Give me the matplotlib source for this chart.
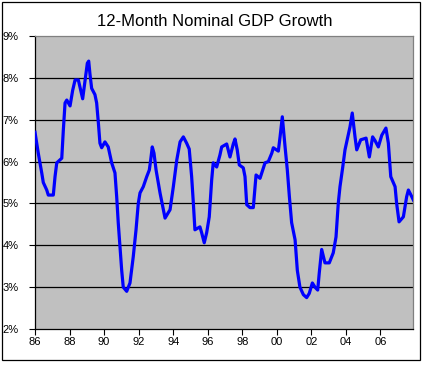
import matplotlib
matplotlib.use("Agg")
import matplotlib.pyplot as plt
from matplotlib.patches import Rectangle

plt.rcParams['font.family'] = ['Liberation Sans', 'DejaVu Sans']

# 12-month nominal GDP growth (%)
years = [1986.00, 1986.19, 1986.39, 1986.48, 1986.68, 1986.77, 1987.06, 1987.16,
         1987.26, 1987.55, 1987.64, 1987.74, 1987.84, 1988.03, 1988.18, 1988.32,
         1988.51, 1988.65, 1988.76, 1988.90, 1989.03, 1989.11, 1989.18, 1989.28,
         1989.47, 1989.57, 1989.67, 1989.76, 1989.86, 1990.05, 1990.24, 1990.44,
         1990.63, 1990.73, 1990.82, 1990.92, 1991.02, 1991.11, 1991.31, 1991.50,
         1991.69, 1991.85, 1991.98, 1992.08, 1992.27, 1992.47, 1992.62, 1992.70,
         1992.79, 1992.89, 1993.01, 1993.24, 1993.53, 1993.82, 1994.01, 1994.21,
         1994.40, 1994.59, 1994.78, 1994.93, 1995.07, 1995.17, 1995.26, 1995.55,
         1995.65, 1995.80, 1995.94, 1996.09, 1996.23, 1996.32, 1996.52, 1996.71,
         1996.81, 1997.10, 1997.29, 1997.48, 1997.58, 1997.71, 1997.83, 1998.06,
         1998.16, 1998.26, 1998.45, 1998.64, 1998.80, 1999.03, 1999.32, 1999.51,
         1999.71, 1999.80, 2000.09, 2000.19, 2000.32, 2000.48, 2000.61, 2000.73,
         2000.86, 2001.06, 2001.19, 2001.34, 2001.54, 2001.73, 2001.88, 2002.06,
         2002.21, 2002.37, 2002.46, 2002.60, 2002.79, 2003.04, 2003.27, 2003.43,
         2003.56, 2003.66, 2003.82, 2003.95, 2004.11, 2004.24, 2004.37, 2004.53,
         2004.63, 2004.86, 2005.17, 2005.36, 2005.55, 2005.69, 2005.88, 2006.08,
         2006.32, 2006.46, 2006.60, 2006.85, 2006.94, 2007.08, 2007.33, 2007.52,
         2007.62, 2007.77, 2007.91]
growth = [6.70, 6.20, 5.73, 5.50, 5.32, 5.20, 5.20, 5.64,
          5.97, 6.08, 6.75, 7.40, 7.47, 7.33, 7.70, 7.95,
          7.95, 7.70, 7.50, 7.95, 8.35, 8.40, 8.10, 7.75,
          7.60, 7.40, 6.92, 6.44, 6.33, 6.47, 6.35, 5.97,
          5.73, 5.16, 4.54, 3.96, 3.40, 3.00, 2.90, 3.10,
          3.73, 4.37, 5.00, 5.25, 5.40, 5.64, 5.80, 6.04,
          6.35, 6.20, 5.80, 5.25, 4.65, 4.85, 5.40, 6.04,
          6.47, 6.59, 6.44, 6.30, 5.64, 5.00, 4.37, 4.44,
          4.30, 4.06, 4.30, 4.68, 5.56, 5.97, 5.87, 6.16,
          6.35, 6.42, 6.11, 6.42, 6.54, 6.28, 5.92, 5.85,
          5.64, 4.97, 4.90, 4.90, 5.68, 5.60, 5.97, 6.00,
          6.20, 6.33, 6.25, 6.59, 7.07, 6.35, 5.80, 5.16,
          4.54, 4.13, 3.40, 3.00, 2.82, 2.75, 2.85, 3.10,
          3.00, 2.93, 3.34, 3.90, 3.58, 3.58, 3.82, 4.20,
          5.00, 5.40, 5.87, 6.28, 6.59, 6.83, 7.16, 6.59,
          6.28, 6.52, 6.56, 6.11, 6.59, 6.50, 6.35, 6.63,
          6.80, 6.44, 5.64, 5.40, 5.00, 4.56, 4.68, 5.16,
          5.32, 5.20, 5.08]

tick_years = list(range(1986, 2008, 2))
tick_labels = ["%02d" % (y % 100) for y in tick_years]
pct_ticks = [2, 3, 4, 5, 6, 7, 8, 9]

fig = plt.figure(figsize=(4.28, 3.65), dpi=100)
W, H = 428.0, 365.0
ax = fig.add_axes([35 / W, 1 - 329 / H, 378 / W, 293 / H])
ax.set_facecolor("#c0c0c0")

for v in pct_ticks[1:-1]:
    ax.axhline(v, color="black", lw=0.9, zorder=1)

ax.plot(years, growth, color="#0000ff", lw=2.3, zorder=3, solid_joinstyle="round")

ax.set_xlim(1986, 1986 + 378 / 17.27)
ax.set_ylim(2, 9)
ax.set_xticks(tick_years)
ax.set_xticklabels(tick_labels)
ax.set_yticks(pct_ticks)
ax.set_yticklabels(["%d%%" % v for v in pct_ticks])
ax.tick_params(direction="out", length=4, width=0.8, labelsize=8, colors="black")
ax.tick_params(axis="x", pad=1.5)
ax.tick_params(axis="y", pad=8)

ax.spines["top"].set_color("#808080")
ax.spines["right"].set_color("#808080")
ax.spines["left"].set_color("black")
ax.spines["bottom"].set_color("black")
for s in ax.spines.values():
    s.set_linewidth(0.9)

fig.text(214.5 / W, 1 - 21 / H, "12-Month Nominal GDP Growth", ha="center", va="center", fontsize=12)

fig.patches.append(Rectangle((1.5 / W, 5 / H), 418 / W, 358.5 / H, transform=fig.transFigure,
                             fill=False, edgecolor="black", lw=0.9))

fig.savefig("out.png", dpi=100)
